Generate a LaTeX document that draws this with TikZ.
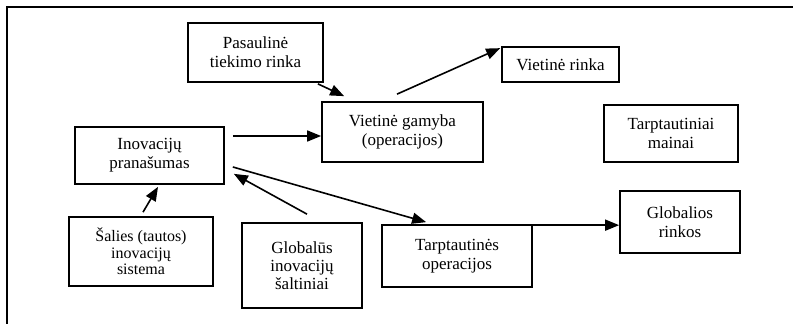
\documentclass[tikz,border=0pt]{standalone}
\usepackage{fontspec}
\setmainfont{Liberation Serif}
\usetikzlibrary{arrows.meta}
\begin{document}
\begin{tikzpicture}[x=1pt,y=-1pt,
  box/.style={draw,line width=1.7pt,align=center,inner sep=0pt,
    font=\fontsize{17}{19}\selectfont},
  arr/.style={line width=1.6pt,-{Triangle[length=14pt,width=11pt]}},
  frame/.style={line width=1.6pt}]
\useasboundingbox (0,0) rectangle (793,324);
\coordinate (ftl) at (7,7);
\coordinate (ftr) at (793,7);
\coordinate (fbl) at (7,324);
\draw[frame] (ftr) -- (ftl) -- (fbl);

\node[box,minimum width=135pt,minimum height=59pt] (pas) at (255.5,52.5) {Pasaulinė\\tiekimo rinka};
\node[box,minimum width=161pt,minimum height=60pt] (vg) at (402.5,132) {Vietinė gamyba\\(operacijos)};
\node[box,minimum width=117pt,minimum height=35pt] (vr) at (560.5,64.5) {Vietinė rinka};
\node[box,minimum width=134pt,minimum height=57pt] (tm) at (671,133.5) {Tarptautiniai\\mainai};
\node[box,minimum width=149pt,minimum height=57pt] (ino) at (149.5,155.5) {Inovacijų\\pranašumas};
\node[box,minimum width=144pt,minimum height=69pt,font=\fontsize{16}{16.5}\selectfont] (sal) at (141,251.5) {Šalies (tautos)\\inovacijų\\sistema};
\node[box,minimum width=120pt,minimum height=85pt,font=\fontsize{17}{18}\selectfont] (glo) at (302,265.5) {Globalūs\\inovacijų\\šaltiniai};
\node[box,minimum width=150pt,minimum height=62pt] (to) at (457,256) {Tarptautinės\\operacijos};
\node[box,minimum width=120pt,minimum height=62pt] (gr) at (680,222) {Globalios\\rinkos};

\coordinate (tostart) at ([shift={(0,1)}]to.north east);
\draw[arr] ([shift={(-6,1)}]pas.south east) -- ([shift={(23,-5)}]vg.north west);
\draw[arr] ([shift={(-5.5,-7)}]vg.north) -- ([shift={(-1,2)}]vr.north west);
\draw[arr] ([shift={(8,-19.5)}]ino.east) -- ([shift={(0,4)}]vg.west);
\draw[arr] ([shift={(8,11.5)}]ino.east) -- ([shift={(45,-2)}]to.north west);
\draw[arr] ([shift={(5,-8)}]glo.north) -- ([shift={(9,-11)}]ino.south east);
\draw[arr] ([shift={(2,-4)}]sal.north) -- ([shift={(8.5,2)}]ino.south);
\draw[arr] (tostart) -- (tostart -| gr.west);
\end{tikzpicture}
\end{document}
